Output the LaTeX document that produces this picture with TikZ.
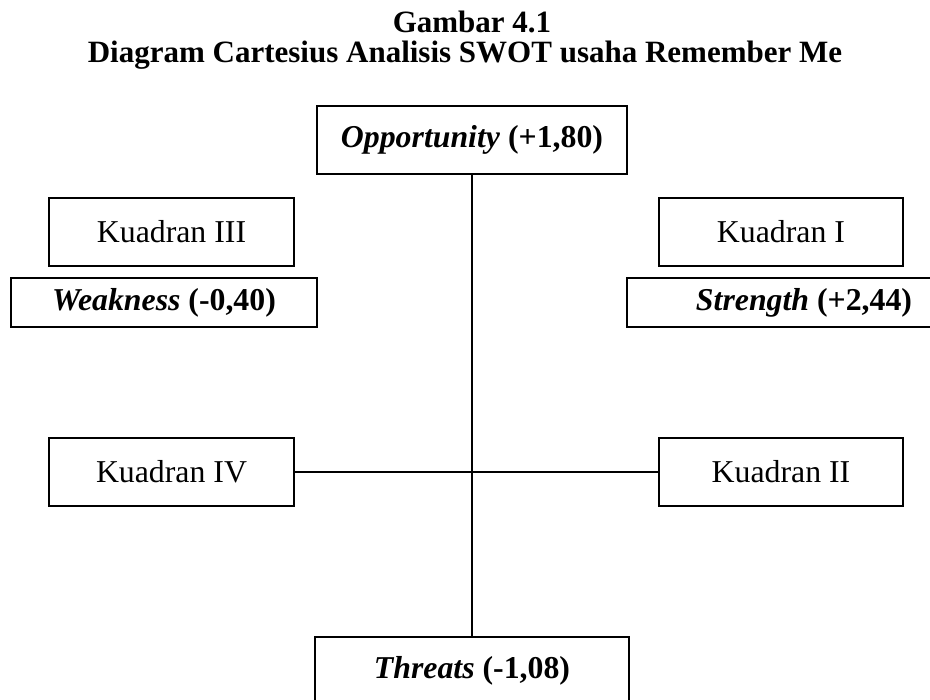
\documentclass[tikz,border=0pt]{standalone}
\usepackage{fontspec}
\setmainfont{Liberation Serif}
\begin{document}
\begin{tikzpicture}[x=1pt,y=-1pt,
  box/.style={draw, line width=2pt, inner sep=0pt, font=\fontsize{31.8}{38}\selectfont},
  ttl/.style={inner sep=0pt, anchor=base, font=\fontsize{31}{37}\selectfont\bfseries},
  conn/.style={line width=2pt}]
\clip (0,0) rectangle (930,700);
\node[ttl] (t1) at (472,33) {Gambar 4.1};
\node[ttl] (t2) at (465,63) {Diagram Cartesius Analisis SWOT usaha Remember Me};
\node[box, minimum width=310pt, minimum height=68pt] (opp) at (472,140) {\textbf{\textit{Opportunity}} \textbf{(+1,80)}};
\node[box, minimum width=245pt, minimum height=68pt] (k3) at (171.5,232) {Kuadran III};
\node[box, minimum width=244pt, minimum height=68pt] (k1) at (781,232) {Kuadran I};
\node[box, minimum width=306pt, minimum height=49pt] (weak) at (164,302.5) {\textbf{\textit{Weakness}} \textbf{(-0,40)}};
\node[box, minimum width=354pt, minimum height=49pt] (str) at (804,302.5) {\textbf{\textit{Strength}} \textbf{(+2,44)}};
\node[box, minimum width=245pt, minimum height=68pt] (k4) at (171.5,472) {Kuadran IV};
\node[box, minimum width=244pt, minimum height=68pt] (k2) at (781,472) {Kuadran II};
\node[box, minimum width=314pt, minimum height=68pt] (thr) at (472,671) {\textbf{\textit{Threats}} \textbf{(-1,08)}};
\draw[conn] (opp.south) -- (thr.north);
\draw[conn] (k4.east) -- (k2.west);
\end{tikzpicture}
\end{document}
